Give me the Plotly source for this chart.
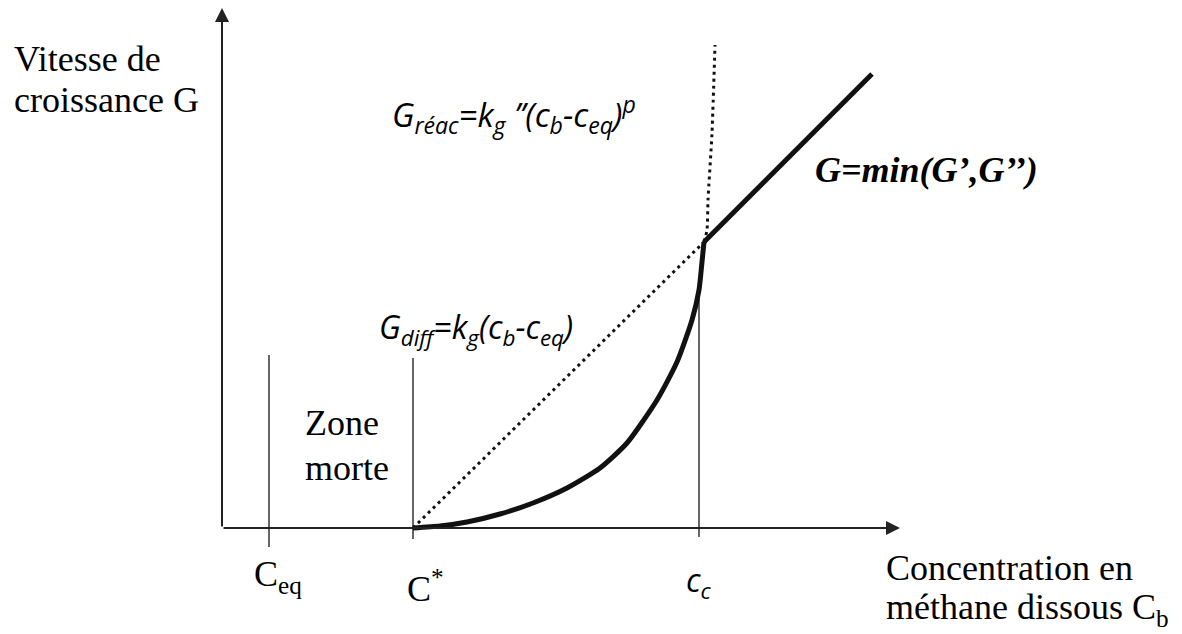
import plotly.graph_objects as go

# Characteristic concentrations along the C_b axis (arbitrary units)
c_eq = 0.47
c_star = 1.91
c_crit = 4.77

# Reaction-limited growth G_reac, drawn solid from C* up to c_c
reac_c = [1.91, 2.18, 2.45, 2.78, 3.11, 3.45, 3.78, 4.05, 4.35, 4.55, 4.70, 4.77, 4.80, 4.82]
reac_g = [0.00, 0.02, 0.06, 0.14, 0.25, 0.40, 0.60, 0.85, 1.28, 1.66, 2.08, 2.38, 2.66, 2.86]

# G_reac continued beyond c_c (dotted)
reac_ext_c = [4.82, 4.85, 4.86, 4.90, 4.93]
reac_ext_g = [2.86, 2.98, 3.28, 3.95, 4.83]

# Diffusion-limited growth G_diff (dotted below c_c)
diff_c = [1.91, 4.82]
diff_g = [0.00, 2.86]

# Overall growth G = min(G', G'') above c_c
growth_c = [4.82, 6.50]
growth_g = [2.86, 4.54]

# Axis extents
axis_c_max = 6.78
axis_g_max = 5.20

INK = "#111111"
AXIS = "#222222"
SERIF = "Liberation Serif"
SANS_IT = "Open Sans"

fig = go.Figure()

# Thin vertical guides at C_eq, C* and c_c
for xc, top, bottom in [(c_eq, 1.73, -0.19), (c_star, 1.70, -0.11), (c_crit, 2.40, -0.09)]:
    fig.add_trace(go.Scatter(x=[xc, xc], y=[bottom, top], mode="lines",
                             line=dict(color="#333333", width=1.5),
                             hoverinfo="skip", showlegend=False))

dotted = dict(color=INK, width=3, dash="3px,4px")
fig.add_trace(go.Scatter(x=diff_c, y=diff_g, mode="lines", line=dotted,
                         hoverinfo="skip", showlegend=False))
fig.add_trace(go.Scatter(x=reac_ext_c, y=reac_ext_g, mode="lines",
                         line=dict(dotted, shape="spline", smoothing=0.6),
                         hoverinfo="skip", showlegend=False))

thick = dict(color=INK, width=5)
fig.add_trace(go.Scatter(x=reac_c, y=reac_g, mode="lines",
                         line=dict(thick, shape="spline", smoothing=0.6),
                         hoverinfo="skip", showlegend=False))
fig.add_trace(go.Scatter(x=growth_c, y=growth_g, mode="lines", line=thick,
                         hoverinfo="skip", showlegend=False))

annotations = []

# Axes drawn as arrows from the origin
for tip_x, tip_y in [(axis_c_max, 0), (0, axis_g_max)]:
    annotations.append(dict(x=tip_x, y=tip_y, ax=0, ay=0, xref="x", yref="y",
                            axref="x", ayref="y", text="", showarrow=True,
                            arrowhead=2, arrowsize=1.4, arrowwidth=2,
                            arrowcolor=AXIS))


def label(text, x, y, family=SERIF, size=36, xanchor="left"):
    annotations.append(dict(x=x, y=y, xref="x", yref="y", text=text,
                            showarrow=False, xanchor=xanchor, yanchor="middle",
                            font=dict(family=family, size=size, color="#000000")))


label("Vitesse de", -2.10, 4.69)
label("croissance G", -2.10, 4.28)
label("Zone", 0.81, 1.05)
label("morte", 0.81, 0.60)
label("C<sub>eq</sub>", 0.30, -0.48)
label("C<sup>*</sup>", 1.83, -0.58)
label("Concentration en", 6.62, -0.40)
label("méthane dissous C<sub>b</sub>", 6.62, -0.81)
label("<b><i>G=min(G’,G’’)</i></b>", 5.91, 3.58)

label("<i>c<sub>c</sub></i>", 4.77, -0.54, family=SANS_IT, size=32, xanchor="center")
label("<i>G<sub>réac</sub>=k<sub>g</sub> ’’(c<sub>b</sub>-c<sub>eq</sub>)<sup>p</sup></i>",
      1.68, 4.14, family=SANS_IT, size=33)
label("<i>G<sub>diff</sub>=k<sub>g</sub>(c<sub>b</sub>-c<sub>eq</sub>)</i>",
      1.55, 1.99, family=SANS_IT, size=32)

fig.update_layout(
    width=1182, height=634, autosize=False,
    margin=dict(l=0, r=0, t=0, b=0),
    paper_bgcolor="white", plot_bgcolor="white",
    xaxis=dict(range=[-2.22, 9.60], visible=False, fixedrange=True),
    yaxis=dict(range=[-1.06, 5.28], visible=False, fixedrange=True),
    annotations=annotations,
    showlegend=False,
)

fig.write_html("out.html", config={"displayModeBar": False})
